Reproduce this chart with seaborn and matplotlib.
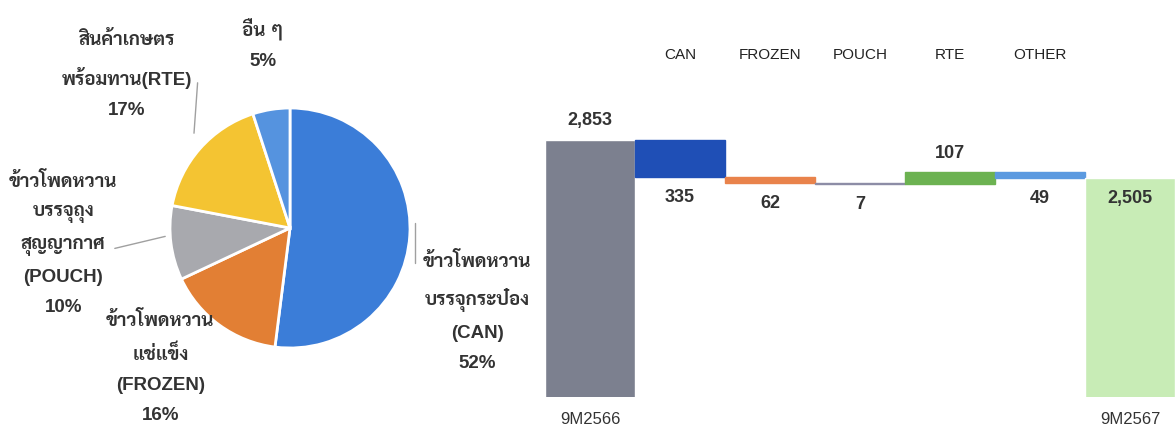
import matplotlib
matplotlib.use("Agg")
from matplotlib import pyplot as plt
from matplotlib import font_manager
import numpy as np
import seaborn as sns

# data
pie_keys = ['CAN', 'FROZEN', 'POUCH', 'RTE', 'OTHER']
pie_share = [52, 16, 10, 17, 5]
pie_labels = ['ข้าวโพดหวาน\nบรรจุกระป๋อง\n(CAN)\n52%',
              'ข้าวโพดหวาน\nแช่แข็ง\n(FROZEN)\n16%',
              'ข้าวโพดหวาน\nบรรจุถุง\nสุญญากาศ\n(POUCH)\n10%',
              'สินค้าเกษตร\nพร้อมทาน(RTE)\n17%',
              'อื่น ๆ\n5%']
pie_colors = ['#3b7dd8', '#e27f34', '#a8a9ae', '#f4c432', '#5593df']

start_label = '9M2566'
end_label = '9M2567'
start_value = 2853
end_value = 2505
step_names = ['CAN', 'FROZEN', 'POUCH', 'RTE', 'OTHER']
step_change = [-335, -62, -7, 107, -49]
wf_colors = ['#7c808f', '#1f4fb6', '#e9834b', '#8d8da6', '#6cb251', '#5b9ae0', '#c8ecb6']

sns.set_theme(style='white')

# thai font with a bold face
thai_font = None
names = set(f.name for f in font_manager.fontManager.ttflist)
for n in ['Sarabun', 'IBM Plex Sans Thai Looped', 'Noto Sans Thai', 'Bai Jamjuree']:
    if n in names:
        thai_font = n
        break
fams = ['Liberation Sans']
if thai_font:
    fams.append(thai_font)
fams.append('DejaVu Sans')
plt.rcParams['font.family'] = fams

fig = plt.figure(figsize=(11.75, 4.34), dpi=100)

# ---- pie
ax1 = fig.add_axes([170/1175, 86/434, 240/1175, 240/434])
ax1.pie(pie_share, colors=pie_colors, startangle=90, counterclock=False,
        wedgeprops=dict(edgecolor='white', linewidth=2))
ax1.set_xlim(-1, 1)
ax1.set_ylim(-1, 1)

label_pos = [(1.56, -0.70), (-1.08, -1.16), (-1.89, -0.13), (-1.36, 1.275), (-0.225, 1.53)]
for lab, (x, y) in zip(pie_labels, label_pos):
    ax1.text(x, y, lab, ha='center', va='center', fontsize=13.5, fontweight='bold',
             color='#333333', linespacing=1.98, clip_on=False)

leaders = [((1.04, 1.04), (0.04, -0.29)),
           ((-1.46, -1.04), (-0.17, -0.07)),
           ((-0.80, -0.77), (0.79, 1.21))]
for xs, ys in leaders:
    ax1.plot(xs, ys, color='#a0a0a0', lw=1, clip_on=False)

# ---- waterfall
ax2 = fig.add_axes([545/1175, 37/434, 630/1175, 367/434])
levels = start_value + np.cumsum(step_change)
prev = np.concatenate([[start_value], levels[:-1]])
x = np.arange(len(step_names) + 2)

ax2.bar(x[0], start_value, width=1, color=wf_colors[0])
for i, (p, c) in enumerate(zip(prev, step_change)):
    ax2.bar(x[i+1], abs(c), bottom=min(p, p + c), width=1, color=wf_colors[i+1],
            edgecolor=wf_colors[i+1], linewidth=1)
ax2.bar(x[-1], end_value, width=1, color=wf_colors[-1])

ax2.set_xlim(-0.5, len(x) - 0.5)
ax2.set_ylim(500, 3861)
sns.despine(ax=ax2, left=True, bottom=True)
ax2.set_yticks([])
ax2.set_xticks(x)
ax2.set_xticklabels([start_label] + [''] * len(step_names) + [end_label],
                    fontsize=12, color='#333333')
ax2.tick_params(axis='x', length=0, pad=11)

num_kw = dict(ha='center', fontsize=13, fontweight='bold', color='#333333')
ax2.text(x[0], start_value + 100, f'{start_value:,}', va='bottom', **num_kw)
for i, (p, c) in enumerate(zip(prev, step_change)):
    if c > 0:
        ax2.text(x[i+1], p + c + 100, f'{abs(c)}', va='bottom', **num_kw)
    else:
        ax2.text(x[i+1], min(p, p + c) - 110, f'{abs(c)}', va='top', **num_kw)
ax2.text(x[-1], end_value - 110, f'{end_value:,}', va='top', **num_kw)

for i, n in enumerate(step_names):
    ax2.text(x[i+1], 0.932, n, transform=ax2.get_xaxis_transform(), ha='center',
             va='center', fontsize=11, fontweight='medium', color='#222222')

fig.savefig('out.png', dpi=100)
